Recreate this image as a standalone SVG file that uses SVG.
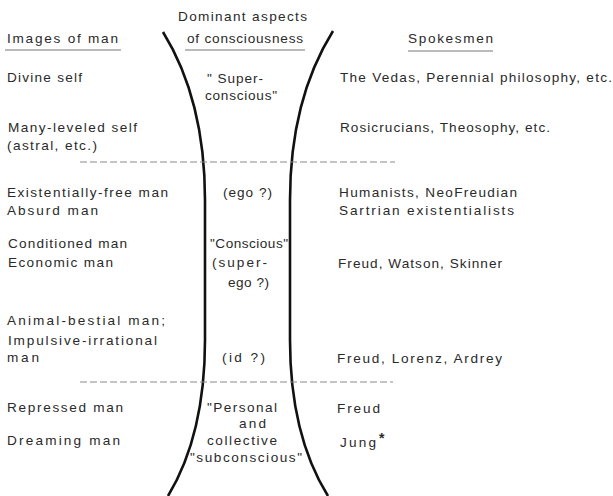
<svg xmlns="http://www.w3.org/2000/svg" width="613" height="496" viewBox="0 0 613 496">
<style>
text{font-family:"Liberation Sans",Arial,sans-serif;font-size:13.6px;fill:#2a2a2a}
.ul{stroke:#777;stroke-width:1.2}
.dash{stroke:#8a8a8a;stroke-width:1.2;stroke-dasharray:7 3;fill:none}
.curve{stroke:#111;stroke-width:2.6;fill:none}
</style>
<rect width="613" height="496" fill="#fff"/>
<g id="lines">
<path class="curve" d="M163,32 Q205,100 205,200 L205,340 Q205,435 168,496"/>
<path class="curve" d="M333,31 Q290,100 290,200 L290,340 Q290,435 328,496"/>
<line class="dash" x1="80" y1="162" x2="395" y2="162"/>
<line class="dash" x1="80" y1="382" x2="393" y2="382"/>
</g>
<g id="headers">
<text x="7" y="43" textLength="111" lengthAdjust="spacing">Images of man</text>
<line class="ul" x1="5" y1="50" x2="121" y2="50"/>
<text x="178" y="21" textLength="129" lengthAdjust="spacing">Dominant aspects</text>
<text x="187" y="43" textLength="116" lengthAdjust="spacing">of consciousness</text>
<line class="ul" x1="185" y1="50" x2="305" y2="50"/>
<text x="408" y="43" textLength="85" lengthAdjust="spacing">Spokesmen</text>
<line class="ul" x1="408" y1="51" x2="493" y2="51"/>
</g>
<g id="row-divine">
<text x="7" y="82" textLength="75" lengthAdjust="spacing">Divine self</text>
<text x="207" y="83" textLength="56" lengthAdjust="spacing">" Super-</text>
<text x="205" y="100" textLength="72" lengthAdjust="spacing">conscious"</text>
<text x="340" y="82" textLength="272" lengthAdjust="spacing">The Vedas, Perennial philosophy, etc.</text>
</g>
<g id="row-many">
<text x="8" y="132" textLength="129" lengthAdjust="spacing">Many-leveled self</text>
<text x="7" y="150" textLength="90" lengthAdjust="spacing">(astral, etc.)</text>
<text x="340" y="132" textLength="210" lengthAdjust="spacing">Rosicrucians, Theosophy, etc.</text>
</g>
<g id="row-existential">
<text x="7" y="197" textLength="161" lengthAdjust="spacing">Existentially-free man</text>
<text x="7" y="215" textLength="91" lengthAdjust="spacing">Absurd man</text>
<text x="223" y="197" textLength="49" lengthAdjust="spacing">(ego ?)</text>
<text x="339" y="197" textLength="178" lengthAdjust="spacing">Humanists, NeoFreudian</text>
<text x="339" y="215" textLength="175" lengthAdjust="spacing">Sartrian existentialists</text>
</g>
<g id="row-conditioned">
<text x="8" y="248" textLength="119" lengthAdjust="spacing">Conditioned man</text>
<text x="8" y="267" textLength="105" lengthAdjust="spacing">Economic man</text>
<text x="210" y="248" textLength="78" lengthAdjust="spacing">"Conscious"</text>
<text x="212" y="267" textLength="55" lengthAdjust="spacing">(super-</text>
<text x="228" y="287" textLength="41" lengthAdjust="spacing">ego ?)</text>
<text x="338" y="268" textLength="164" lengthAdjust="spacing">Freud, Watson, Skinner</text>
</g>
<g id="row-animal">
<text x="7" y="325" textLength="158" lengthAdjust="spacing">Animal-bestial man;</text>
<text x="8" y="345" textLength="149" lengthAdjust="spacing">Impulsive-irrational</text>
<text x="7" y="362" textLength="32" lengthAdjust="spacing">man</text>
<text x="222" y="362" textLength="43" lengthAdjust="spacing">(id ?)</text>
<text x="337" y="363" textLength="165" lengthAdjust="spacing">Freud, Lorenz, Ardrey</text>
</g>
<g id="row-repressed">
<text x="7" y="412" textLength="116" lengthAdjust="spacing">Repressed man</text>
<text x="7" y="445" textLength="113" lengthAdjust="spacing">Dreaming man</text>
<text x="207" y="412" textLength="70" lengthAdjust="spacing">"Personal</text>
<text x="239" y="428" textLength="27" lengthAdjust="spacing">and</text>
<text x="207" y="445" textLength="70" lengthAdjust="spacing">collective</text>
<text x="190" y="462" textLength="112" lengthAdjust="spacing">"subconscious"</text>
<text x="337" y="413" textLength="43" lengthAdjust="spacing">Freud</text>
<text x="340" y="447" textLength="36" lengthAdjust="spacing">Jung</text>
<text x="379" y="443" style="font-size:14px;font-weight:bold">*</text>
</g>
</svg>
